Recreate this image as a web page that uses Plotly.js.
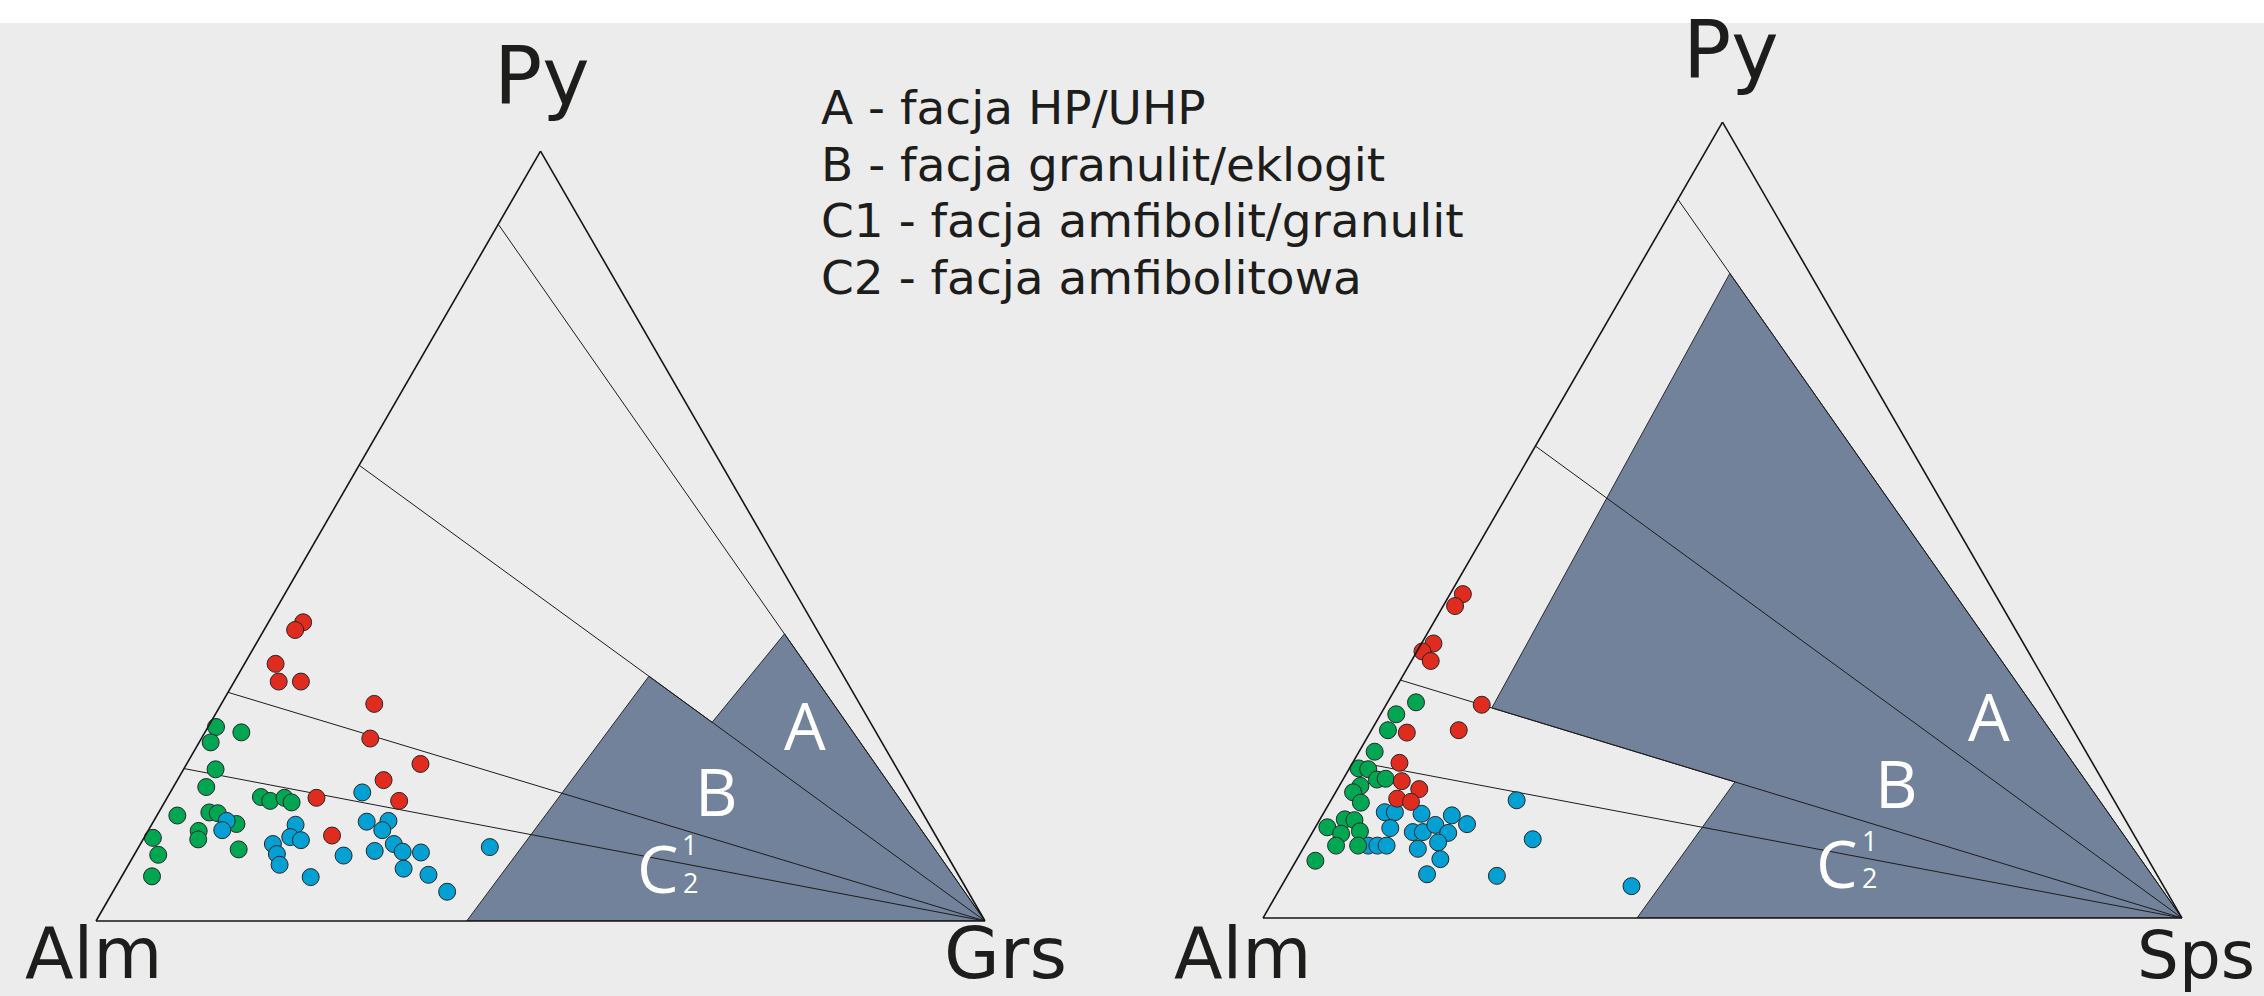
<!DOCTYPE html>
<html>
<head>
<meta charset="utf-8">
<script src="https://cdn.plot.ly/plotly-3.0.1.min.js"></script>
<style>
html,body{margin:0;padding:0;background:#ececec;overflow:hidden;}
#chart{width:2264px;height:996px;}
</style>
</head>
<body>
<div id="chart"></div>
<script>
// ---------- DATA (ternary compositions in %, order: [Py, Alm, third end-member]) ----------
// Left diagram: Py - Alm - Grs
const grsRed = [[38.8,57.3,3.9],[37.8,58.7,3.5],[33.4,63.1,3.5],[31.1,63.9,5.0],[31.1,61.4,7.5],[28.2,54.6,17.2],
  [23.7,57.3,19.0],[20.4,53.3,26.3],[18.3,58.5,23.2],[15.6,58.1,26.3],[16.0,67.2,16.8],[11.1,67.9,21.0]];
const grsGreen = [[25.2,73.9,0.9],[23.2,75.5,1.3],[24.5,71.4,4.1],[19.7,76.7,3.6],[17.4,78.9,3.7],[16.1,73.4,10.5],
  [15.6,72.6,11.8],[16.0,70.8,13.2],[15.4,70.3,14.3],[13.7,84.0,2.3],[14.1,80.2,5.7],[14.0,79.3,6.7],[12.6,77.9,9.5],
  [11.7,82.6,5.7],[10.6,83.2,6.2],[10.8,88.2,1.0],[8.6,88.7,2.7],[9.3,79.3,11.4],[5.8,90.8,3.4]];
const grsBlue = [[16.7,61.7,21.6],[13.0,78.8,8.2],[11.8,79.9,8.3],[12.5,71.3,16.2],[10.9,72.7,16.4],[10.5,71.7,17.8],
  [10.0,75.1,14.9],[8.7,75.3,16.0],[7.3,75.7,17.0],[5.7,73.0,21.3],[12.9,63.1,24.0],[13.0,60.6,26.4],[11.8,61.9,26.3],
  [10.0,61.5,28.5],[9.0,61.0,30.0],[9.1,64.1,26.8],[8.5,67.9,23.6],[8.9,59.0,32.1],[6.8,62.0,31.2],[6.0,59.6,34.4],
  [3.8,58.6,37.6],[9.6,50.9,39.5]];
// field boundary lines: start on Py-Alm edge (Py %) and run to the Grs corner
const grsLinePy = [90.5, 59.2, 29.7, 19.8];
// shaded field (A + B + C part) polygon
const grsField = [[0,58.3,41.7],[31.8,21.9,46.3],[25.8,17.8,56.4],[37.3,3.9,58.8],[0,0,100]];

// Right diagram: Py - Alm - Sps
const spsRed = [[40.7,57.9,1.4],[39.2,59.5,1.3],[34.5,64.2,1.3],[33.5,65.9,0.6],[32.3,65.6,2.1],[26.8,62.8,10.4],
  [23.6,66.9,9.5],[23.3,72.7,4.0],[19.5,75.4,5.1],[17.2,76.3,6.5],[16.2,74.9,8.9],[15.0,77.9,7.1],[14.6,76.6,8.8]];
const spsGreen = [[27.1,69.8,3.1],[25.6,72.7,1.7],[23.6,74.6,1.8],[20.9,77.4,1.7],[18.8,80.2,1.0],[18.7,79.2,2.1],
  [17.4,78.9,3.7],[17.5,77.9,4.6],[16.6,81.1,2.3],[15.8,82.3,1.9],[14.5,82.1,3.4],[12.4,84.9,2.7],[12.3,83.9,3.8],
  [11.4,87.3,1.3],[10.6,86.2,3.2],[10.9,84.0,5.1],[9.1,87.5,3.4],[9.1,85.1,5.8],[7.2,90.7,2.1]];
const spsBlue = [[13.3,80.1,6.6],[13.3,79.0,7.7],[11.3,80.5,8.2],[9.1,84.0,6.9],[9.1,83.0,7.9],[9.1,82.0,8.9],
  [13.1,76.2,10.7],[10.8,78.3,10.9],[10.8,77.2,12.0],[11.7,75.4,12.9],[10.7,74.5,14.8],[12.9,73.0,14.1],[11.8,71.9,16.3],
  [9.5,76.2,14.3],[8.7,78.8,12.5],[7.4,77.0,15.6],[5.5,79.4,15.1],[5.3,71.9,22.8],[14.8,65.0,20.2],[9.9,65.7,24.4],
  [4.0,57.9,38.1]];
const spsLinePy = [90.3, 59.3, 29.9, 19.7];
const spsField = [[81.0,8.7,10.3],[26.4,61.9,11.7],[17.1,40.1,42.8],[0,59.3,40.7],[0,0,100]];

// texts
const apexLabel = 'Py';
const leftLabels = ['Alm', 'Grs'];
const rightLabels = ['Alm', 'Sps'];
const legendLines = ['A - facja HP/UHP', 'B - facja granulit/eklogit', 'C1 - facja amfibolit/granulit', 'C2 - facja amfibolitowa'];
const fieldLetters = ['A', 'B', 'C'];
const fieldIndices = ['1', '2'];

// ---------- STYLE ----------
const COL = {red:'#e02b1f', green:'#00a651', blue:'#03a0d4', field:'#72829b', line:'#1c1c1c', text:'#1d1d1b'};
const W = 2264, H = 996;
const px = v => v / W, py = v => 1 - v / H;

function pts(arr, sub, color) {
  return {type:'scatterternary', subplot:sub, mode:'markers',
    a:arr.map(p=>p[0]), b:arr.map(p=>p[1]), c:arr.map(p=>p[2]),
    marker:{size:17, color:color, line:{color:'#262626', width:1}},
    hoverinfo:'skip', cliponaxis:false};
}
function field(arr, sub) {
  const a = arr.map(p=>p[0]), b = arr.map(p=>p[1]), c = arr.map(p=>p[2]);
  a.push(a[0]); b.push(b[0]); c.push(c[0]);
  return {type:'scatterternary', subplot:sub, mode:'lines', a, b, c, fill:'toself',
    fillcolor:COL.field, line:{color:'#2a2a2a', width:1}, hoverinfo:'skip'};
}
function bLines(starts, sub) {
  return starts.map(p => ({type:'scatterternary', subplot:sub, mode:'lines',
    a:[p, 0], b:[100 - p, 0], c:[0, 100], line:{color:COL.line, width:1}, hoverinfo:'skip'}));
}

const traces = [
  field(grsField, 'ternary'), ...bLines(grsLinePy, 'ternary'),
  pts(grsGreen, 'ternary', COL.green), pts(grsBlue, 'ternary', COL.blue), pts(grsRed, 'ternary', COL.red),
  field(spsField, 'ternary2'), ...bLines(spsLinePy, 'ternary2'),
  pts(spsBlue, 'ternary2', COL.blue), pts(spsGreen, 'ternary2', COL.green), pts(spsRed, 'ternary2', COL.red)
];

const ax = {showline:true, linecolor:'#151515', linewidth:1.6, showgrid:false, showticklabels:false,
  ticks:'', title:{text:''}, min:0};
function tern(x0, x1, yc, hh) {
  return {sum:100, bgcolor:'rgba(0,0,0,0)', domain:{x:[px(x0), px(x1)], y:[py(yc) - hh/2, py(yc) + hh/2]},
    aaxis:ax, baxis:ax, caxis:ax};
}

const SANS = 'DejaVu Sans', WH = 'Open Sans';
const ann = [];
function txt(t, x, y, size, family, color, xanchor, tight) {
  const o = {text:t, x:px(x), y:py(y), xref:'paper', yref:'paper', showarrow:false,
    xanchor:xanchor || 'center', yanchor:'middle', font:{family:family, size:size, color:color}};
  if (tight) { o.borderpad = 0; o.borderwidth = 0; }
  ann.push(o);
}
// bottom corner labels: positioned by baseline so the whole text box stays inside the page
function bottomTxt(t, x, baseline, size) {
  txt(t, x, baseline - 0.346 * size, size, SANS, COL.text, 'center', true);
}
// corner labels
txt(apexLabel, 542, 77, 80, SANS, COL.text);
bottomTxt(leftLabels[0], 94, 978, 71);
bottomTxt(leftLabels[1], 1005, 978, 72);
txt(apexLabel, 1731, 51, 80, SANS, COL.text);
bottomTxt(rightLabels[0], 1242, 978, 71);
bottomTxt(rightLabels[1], 2196, 978, 66);
// legend
legendLines.forEach((t, i) => txt(t, 819, 107.5 + i * 56.7, 47, SANS, COL.text, 'left'));
// field labels (white)
txt(fieldLetters[0], 805, 724, 66, WH, '#ffffff');
txt(fieldLetters[1], 716, 790, 66, WH, '#ffffff');
txt(fieldLetters[2], 658, 867, 66, WH, '#ffffff');
txt(fieldIndices[0], 689, 844, 27, WH, '#ffffff');
txt(fieldIndices[1], 690, 882, 27, WH, '#ffffff');
txt(fieldLetters[0], 1989, 715, 66, WH, '#ffffff');
txt(fieldLetters[1], 1896, 782, 66, WH, '#ffffff');
txt(fieldLetters[2], 1837, 862, 66, WH, '#ffffff');
txt(fieldIndices[0], 1869, 840, 27, WH, '#ffffff');
txt(fieldIndices[1], 1869, 877, 27, WH, '#ffffff');

const layout = {
  width:W, height:H, autosize:false, margin:{l:0, r:0, t:0, b:0, pad:0},
  paper_bgcolor:'#ececec', plot_bgcolor:'#ececec', showlegend:false,
  ternary: tern(96, 985, 921 - 889 / (2 / Math.sqrt(3)) / 2, 0.80),
  ternary2: tern(1263, 2182, 520.1, 0.82),
  shapes:[{type:'rect', xref:'paper', yref:'paper', x0:0, x1:1, y0:py(23), y1:1,
    fillcolor:'#ffffff', line:{width:0}, layer:'below'}],
  annotations: ann
};

Plotly.newPlot('chart', traces, layout, {staticPlot:true, displayModeBar:false});
</script>
</body>
</html>
